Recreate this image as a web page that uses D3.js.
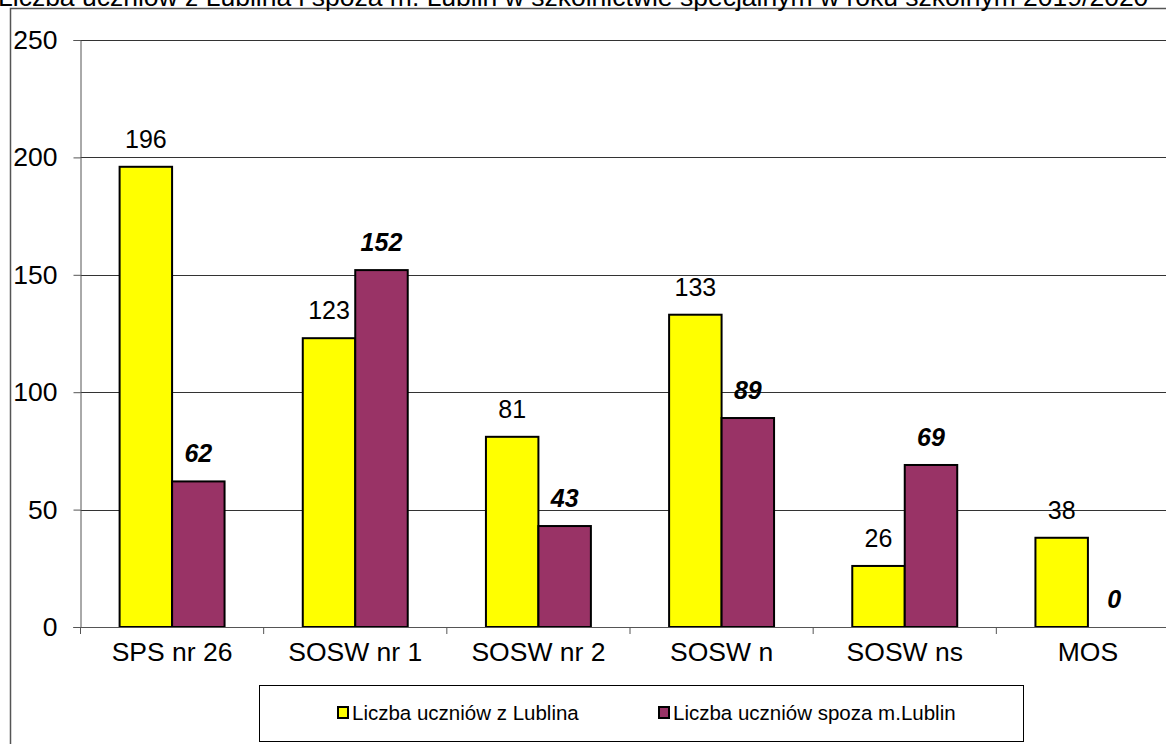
<!DOCTYPE html>
<html>
<head>
<meta charset="utf-8">
<script src="https://cdn.jsdelivr.net/npm/d3@7"></script>
<style>
  body { margin: 0; background: #fff; }
  svg { display: block; font-family: Arial, "Liberation Sans", sans-serif; }
</style>
</head>
<body>
<div id="chart"></div>
<script>
// data
var categories = ["SPS nr 26", "SOSW nr 1", "SOSW nr 2", "SOSW n", "SOSW ns", "MOS"];
var seriesNames = ["Liczba uczniów z Lublina", "Liczba uczniów spoza m.Lublin"];
var fromLublin = [196, 123, 81, 133, 26, 38];
var outsideLublin = [62, 152, 43, 89, 69, 0];
var yTicks = [0, 50, 100, 150, 200, 250];
var title = "Liczba uczniów z Lublina i spoza m. Lublin w szkolnictwie specjalnym w roku szkolnym 2019/2020";

var colors = ["#ffff00", "#993366"];

var W = 1166, H = 744;
var plot = {left: 80.5, right: 1179.5, top: 40, bottom: 627};

var svg = d3.select("#chart").append("svg")
    .attr("width", W)
    .attr("height", H);

// outer chart frame (runs off the page on right/bottom)
svg.append("rect")
    .attr("x", 10.5).attr("y", 8.5)
    .attr("width", 1200).attr("height", 800)
    .attr("fill", "none")
    .attr("stroke", "#555")
    .attr("stroke-width", 1.5);

// title, mostly cut off at the top
svg.append("text")
    .attr("x", -2)
    .attr("y", 6)
    .attr("font-size", 26.5)
    .attr("fill", "#000")
    .text(title);

var x0 = d3.scaleBand()
    .domain(categories)
    .range([plot.left, plot.right])
    .paddingInner(0.427)
    .paddingOuter(0.2135);

var x1 = d3.scaleBand()
    .domain([0, 1])
    .range([0, x0.bandwidth()]);

var y = d3.scaleLinear()
    .domain([0, 250])
    .range([plot.bottom, plot.top]);

// gridlines
svg.append("g")
    .selectAll("line")
    .data(yTicks.filter(function(d) { return d > 0; }))
    .enter()
    .append("line")
    .attr("x1", plot.left)
    .attr("x2", plot.right)
    .attr("y1", function(d) { return Math.round(y(d)) + 0.5; })
    .attr("y2", function(d) { return Math.round(y(d)) + 0.5; })
    .attr("stroke", "#333")
    .attr("stroke-width", 1);

// y axis
var yAxis = svg.append("g")
    .attr("transform", "translate(" + plot.left + ",0)")
    .call(d3.axisLeft(y).tickValues(yTicks).tickSize(7).tickPadding(16));
yAxis.select(".domain").attr("stroke", "#555");
yAxis.selectAll(".tick line").attr("stroke", "#555");
yAxis.selectAll("text")
    .attr("font-size", 26.5)
    .attr("font-family", "Arial, 'Liberation Sans', sans-serif")
    .attr("fill", "#000");

// bars
var groups = svg.append("g")
    .selectAll("g")
    .data(categories)
    .enter()
    .append("g")
    .attr("transform", function(d) { return "translate(" + x0(d) + ",0)"; });

groups.selectAll("rect")
    .data(function(d, i) { return [{s: 0, v: fromLublin[i]}, {s: 1, v: outsideLublin[i]}]; })
    .enter()
    .filter(function(d) { return d.v > 0; })
    .append("rect")
    .attr("x", function(d) { return x1(d.s); })
    .attr("y", function(d) { return y(d.v); })
    .attr("width", x1.bandwidth())
    .attr("height", function(d) { return y(0) - y(d.v); })
    .attr("fill", function(d) { return colors[d.s]; })
    .attr("stroke", "#000")
    .attr("stroke-width", 2);

// value labels
groups.selectAll("text.val")
    .data(function(d, i) { return [{s: 0, v: fromLublin[i]}, {s: 1, v: outsideLublin[i]}]; })
    .enter()
    .append("text")
    .attr("class", "val")
    .attr("x", function(d) { return x1(d.s) + x1.bandwidth() / 2; })
    .attr("y", function(d) { return y(d.v) - 19; })
    .attr("text-anchor", "middle")
    .attr("font-size", 25)
    .attr("font-weight", function(d) { return d.s === 1 ? "bold" : "normal"; })
    .attr("font-style", function(d) { return d.s === 1 ? "italic" : "normal"; })
    .attr("fill", "#000")
    .text(function(d) { return d.v; });

// x axis
var xAxis = svg.append("g")
    .attr("transform", "translate(0," + plot.bottom + ")")
    .call(d3.axisBottom(x0).tickSize(0).tickPadding(15));
xAxis.select(".domain").remove();
xAxis.append("line")
    .attr("x1", plot.left - 7).attr("x2", plot.right)
    .attr("y1", 0.5).attr("y2", 0.5)
    .attr("stroke", "#555");
xAxis.selectAll(".sep")
    .data(d3.range(categories.length + 1))
    .enter()
    .append("line")
    .attr("x1", function(i) { return plot.left + i * x0.step(); })
    .attr("x2", function(i) { return plot.left + i * x0.step(); })
    .attr("y1", 0)
    .attr("y2", 7)
    .attr("stroke", "#555");
xAxis.selectAll("text")
    .attr("font-size", 26.5)
    .attr("font-family", "Arial, 'Liberation Sans', sans-serif")
    .attr("fill", "#000");

// legend
var legend = svg.append("g");
legend.append("rect")
    .attr("x", 259.5).attr("y", 685.5)
    .attr("width", 764).attr("height", 56)
    .attr("fill", "#fff")
    .attr("stroke", "#000");

var legendX = [338, 659];
var items = legend.selectAll("g")
    .data(seriesNames)
    .enter()
    .append("g")
    .attr("transform", function(d, i) { return "translate(" + legendX[i] + ",713)"; });
items.append("rect")
    .attr("x", 0).attr("y", -6)
    .attr("width", 10).attr("height", 11)
    .attr("fill", function(d, i) { return colors[i]; })
    .attr("stroke", "#000")
    .attr("stroke-width", 2);
items.append("text")
    .attr("x", 14)
    .attr("y", 7)
    .attr("font-size", 20.5)
    .attr("fill", "#000")
    .text(function(d) { return d; });
</script>
</body>
</html>
